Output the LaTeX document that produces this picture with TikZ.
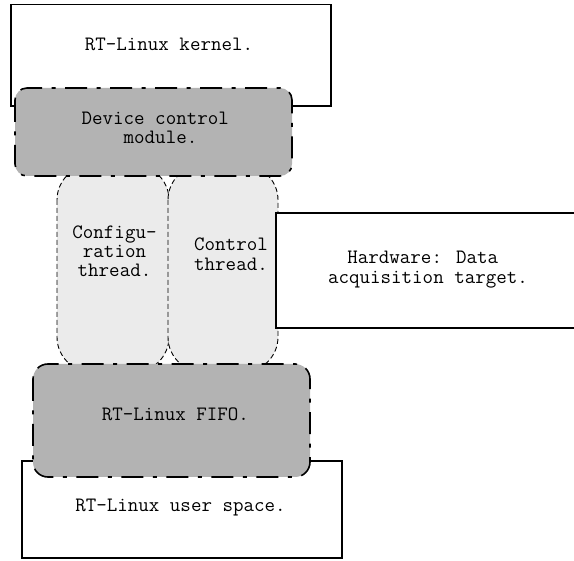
\documentclass[tikz,border=0pt]{standalone}
\usepackage{fontspec}
\definecolor{darkfill}{HTML}{B3B3B3}
\definecolor{lightfill}{HTML}{EBEBEB}
\tikzset{
  plainbox/.style={draw=black, line width=1.5pt, fill=white},
  modbox/.style={draw=black, line width=1.6pt, fill=darkfill,
    dash pattern=on 22pt off 9.5pt on 4pt off 9.5pt},
  threadbox/.style={draw=black, line width=0.9pt, fill=lightfill,
    dash pattern=on 5pt off 3pt, rounded corners=35pt},
  lbl/.style={inner sep=0pt, anchor=base, align=center,
    font=\ttfamily\fontsize{20.4}{19.2}\selectfont}
}
\begin{document}
\begin{tikzpicture}[x=1pt, y=-1pt]
\clip (0,0) rectangle (574,561);
\useasboundingbox (0,0) rectangle (574,561);
% RT-Linux kernel
\path[plainbox] (11,4.5) rectangle (331,106);
% RT-Linux user space
\path[plainbox] (22,461) rectangle (342,558);
% threads
\path[threadbox] (57,165) rectangle (169,372);
\path[threadbox] (168,165) rectangle (278,372);
% hardware
\path[plainbox] (276,213) rectangle (600,328);
% device control module
\path[modbox, rounded corners=12pt] (15,88) rectangle (292,176);
% FIFO
\path[modbox, rounded corners=15pt] (33,364) rectangle (310,477);
% labels
\node[lbl] (tkernel) at (169,51) {RT-Linux kernel.};
\node[lbl] (tdevice) at (160.5,144) {Device control\hphantom{x}\\module.};
\node[lbl] (tconfig) at (114.5,277) {Configu-\\ration\\thread.};
\node[lbl] (tcontrol) at (231,270.2) {Control\\thread.};
\node[lbl] (thw) at (428,283.2) {Hardware: Data\hphantom{x}\\acquisition target.};
\node[lbl] (tfifo) at (175.3,420.7) {RT-Linux FIFO.};
\node[lbl] (tuser) at (180.5,511.7) {RT-Linux user space.};
\end{tikzpicture}
\end{document}
